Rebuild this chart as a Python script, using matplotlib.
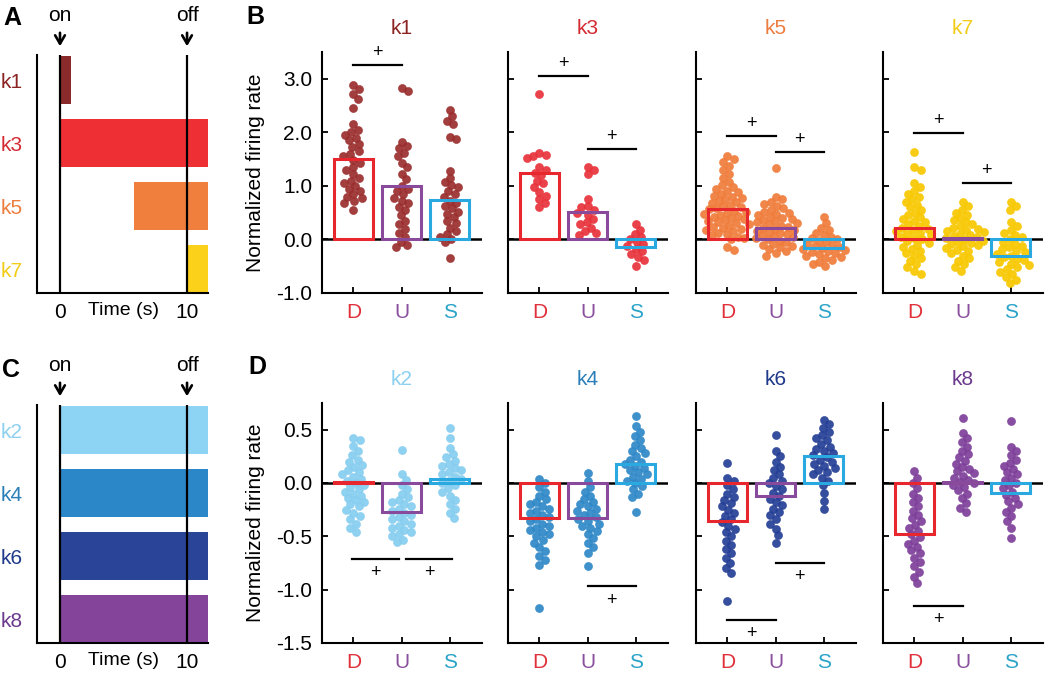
import numpy as np
import matplotlib
matplotlib.use("Agg")
import matplotlib.pyplot as plt
import matplotlib.transforms as mtransforms

plt.rcParams['font.family'] = ['Liberation Sans', 'DejaVu Sans']
plt.rcParams['axes.unicode_minus'] = False

# ---------------- data ----------------
groups = ['D', 'U', 'S']

# panel A / C : response windows (s)
time_lim = [-1.81, 11.65]
stim_on, stim_off = 0, 10
cells_A = ['k1', 'k3', 'k5', 'k7']
start_A = [0, 0, 5.85, 10]
end_A = [0.87, 11.65, 11.65, 11.65]
cells_C = ['k2', 'k4', 'k6', 'k8']
start_C = [0, 0, 0, 0]
end_C = [11.65, 11.65, 11.65, 11.65]

# bar heights (mean normalized firing rate)
mean_k1 = [1.50, 0.99, 0.74]
mean_k3 = [1.25, 0.52, -0.14]
mean_k5 = [0.56, 0.21, -0.16]
mean_k7 = [0.22, 0.02, -0.30]
mean_k2 = [0.01, -0.27, 0.04]
mean_k4 = [-0.33, -0.33, 0.18]
mean_k6 = [-0.36, -0.12, 0.25]
mean_k8 = [-0.48, 0.01, -0.09]

# individual units
k1_D = [2.88, 2.80, 2.72, 2.62, 2.45, 2.15, 2.05, 2.0, 1.95, 1.9, 1.85, 1.78, 1.72, 1.65, 1.6, 1.55, 1.48,
        1.42, 1.35, 1.3, 1.22, 1.15, 1.1, 1.05, 1.0, 0.95, 0.9, 0.85, 0.8, 0.78, 0.72, 0.68, 0.55]
k1_U = [2.82, 2.78, 1.82, 1.75, 1.70, 1.62, 1.55, 1.42, 1.35, 1.22, 1.12, 1.0, 0.95, 0.9, 0.85, 0.78, 0.72,
        0.68, 0.6, 0.55, 0.45, 0.35, 0.28, 0.2, 0.12, 0.05, -0.05, -0.1, -0.14]
k1_S = [2.42, 2.3, 2.22, 2.15, 1.92, 1.88, 1.28, 1.15, 1.08, 1.02, 0.98, 0.9, 0.85, 0.8, 0.72, 0.68, 0.62,
        0.58, 0.52, 0.48, 0.42, 0.35, 0.3, 0.22, 0.15, 0.1, 0.05, 0.0, -0.05, -0.35]
k3_D = [2.72, 1.62, 1.58, 1.55, 1.52, 1.35, 1.3, 1.25, 1.2, 1.1, 1.05, 0.98, 0.88, 0.82, 0.75, 0.68, 0.6]
k3_U = [1.35, 1.3, 1.22, 0.75, 0.62, 0.6, 0.55, 0.5, 0.45, 0.38, 0.32, 0.28, 0.22, 0.15, 0.12, 0.08]
k3_S = [0.28, 0.18, 0.1, 0.05, 0.0, -0.05, -0.08, -0.12, -0.18, -0.22, -0.28, -0.32, -0.38, -0.5]
k5_D = [1.55, 1.5, 1.45, 1.38, 1.3, 1.22, 1.15, 1.08, 1.02, 0.98, 0.95, 0.9, 0.88, 0.85, 0.82, 0.8, 0.78,
        0.75, 0.72, 0.7, 0.68, 0.65, 0.62, 0.6, 0.58, 0.56, 0.54, 0.52, 0.5, 0.48, 0.46, 0.44, 0.42, 0.4,
        0.38, 0.36, 0.34, 0.32, 0.3, 0.28, 0.26, 0.24, 0.22, 0.2, 0.18, 0.15, 0.12, 0.1, 0.08, 0.05, 0.02,
        0.0, -0.15, -0.2]
k5_U = [1.33, 0.8, 0.75, 0.7, 0.66, 0.62, 0.58, 0.55, 0.52, 0.5, 0.47, 0.45, 0.42, 0.4, 0.38, 0.36, 0.34,
        0.32, 0.3, 0.28, 0.26, 0.24, 0.22, 0.2, 0.18, 0.16, 0.14, 0.12, 0.1, 0.08, 0.06, 0.04, 0.02, 0.0,
        -0.02, -0.05, -0.08, -0.1, -0.12, -0.15, -0.18, -0.22, -0.26, -0.3]
k5_S = [0.42, 0.3, 0.22, 0.18, 0.12, 0.08, 0.05, 0.02, 0.0, -0.02, -0.05, -0.08, -0.1, -0.12, -0.14, -0.16,
        -0.18, -0.2, -0.22, -0.24, -0.26, -0.28, -0.3, -0.32, -0.35, -0.38, -0.42, -0.46, -0.5]
k7_D = [1.63, 1.35, 1.3, 1.05, 0.98, 0.9, 0.85, 0.8, 0.75, 0.7, 0.65, 0.6, 0.55, 0.5, 0.45, 0.42, 0.38,
        0.35, 0.32, 0.28, 0.25, 0.22, 0.2, 0.18, 0.15, 0.12, 0.1, 0.08, 0.05, 0.02, 0.0, -0.03, -0.06, -0.1,
        -0.14, -0.18, -0.22, -0.26, -0.3, -0.35, -0.4, -0.45, -0.52, -0.58, -0.64]
k7_U = [0.7, 0.62, 0.55, 0.5, 0.45, 0.4, 0.36, 0.32, 0.28, 0.25, 0.22, 0.2, 0.18, 0.15, 0.13, 0.1, 0.08,
        0.06, 0.04, 0.02, 0.0, -0.02, -0.04, -0.06, -0.08, -0.1, -0.13, -0.16, -0.19, -0.22, -0.26, -0.3,
        -0.35, -0.4, -0.46, -0.52, -0.58]
k7_S = [0.7, 0.62, 0.55, 0.32, 0.25, 0.18, 0.12, 0.08, 0.04, 0.0, -0.04, -0.08, -0.12, -0.15, -0.18, -0.21,
        -0.24, -0.27, -0.3, -0.33, -0.36, -0.39, -0.42, -0.45, -0.48, -0.52, -0.56, -0.6, -0.65, -0.7,
        -0.76, -0.82]
k2_D = [0.42, 0.4, 0.35, 0.3, 0.26, 0.22, 0.2, 0.17, 0.15, 0.12, 0.1, 0.08, 0.06, 0.04, 0.02, 0.0, -0.02,
        -0.04, -0.06, -0.08, -0.1, -0.12, -0.14, -0.16, -0.18, -0.2, -0.22, -0.25, -0.28, -0.31, -0.34,
        -0.38, -0.42, -0.46]
k2_U = [0.31, 0.08, 0.03, -0.02, -0.06, -0.1, -0.13, -0.16, -0.18, -0.2, -0.22, -0.24, -0.26, -0.28, -0.3,
        -0.32, -0.34, -0.36, -0.38, -0.4, -0.42, -0.44, -0.46, -0.48, -0.5, -0.53, -0.55]
k2_S = [0.52, 0.42, 0.33, 0.27, 0.24, 0.21, 0.18, 0.16, 0.14, 0.12, 0.1, 0.08, 0.06, 0.04, 0.02, 0.0, -0.02,
        -0.05, -0.08, -0.12, -0.16, -0.2, -0.24, -0.28, -0.33]
k4_D = [0.04, 0.0, -0.04, -0.08, -0.12, -0.15, -0.18, -0.2, -0.22, -0.24, -0.26, -0.28, -0.3, -0.32, -0.34,
        -0.36, -0.38, -0.4, -0.42, -0.44, -0.46, -0.48, -0.5, -0.53, -0.56, -0.6, -0.64, -0.68, -0.72,
        -0.77, -1.17]
k4_U = [0.09, 0.02, -0.04, -0.08, -0.12, -0.15, -0.18, -0.2, -0.22, -0.24, -0.26, -0.28, -0.3, -0.32, -0.34,
        -0.36, -0.38, -0.4, -0.42, -0.45, -0.48, -0.52, -0.56, -0.6, -0.66, -0.78]
k4_S = [0.63, 0.53, 0.48, 0.44, 0.4, 0.36, 0.33, 0.3, 0.28, 0.25, 0.22, 0.2, 0.18, 0.16, 0.14, 0.12, 0.1,
        0.08, 0.06, 0.04, 0.02, 0.0, -0.03, -0.06, -0.1, -0.13, -0.27]
k6_D = [0.19, 0.05, 0.02, -0.02, -0.06, -0.1, -0.13, -0.16, -0.19, -0.22, -0.25, -0.28, -0.31, -0.34, -0.37,
        -0.4, -0.43, -0.46, -0.5, -0.54, -0.58, -0.62, -0.66, -0.7, -0.75, -0.8, -0.84, -1.11]
k6_U = [0.45, 0.3, 0.25, 0.2, 0.15, 0.12, 0.08, 0.05, 0.02, 0.0, -0.03, -0.06, -0.09, -0.12, -0.15, -0.18,
        -0.21, -0.24, -0.27, -0.3, -0.34, -0.38, -0.43, -0.49, -0.56]
k6_S = [0.59, 0.55, 0.52, 0.48, 0.45, 0.42, 0.4, 0.37, 0.34, 0.32, 0.3, 0.28, 0.26, 0.24, 0.22, 0.2, 0.18,
        0.16, 0.14, 0.12, 0.1, 0.08, 0.05, 0.02, -0.02, -0.09, -0.17, -0.24]
k8_D = [0.11, 0.05, 0.0, -0.05, -0.1, -0.14, -0.18, -0.22, -0.26, -0.3, -0.33, -0.36, -0.39, -0.42, -0.45,
        -0.48, -0.51, -0.54, -0.57, -0.6, -0.63, -0.66, -0.7, -0.74, -0.78, -0.83, -0.88, -0.94]
k8_U = [0.61, 0.47, 0.42, 0.38, 0.34, 0.3, 0.27, 0.24, 0.21, 0.18, 0.15, 0.13, 0.11, 0.09, 0.07, 0.05, 0.03,
        0.01, 0.0, -0.02, -0.04, -0.07, -0.1, -0.14, -0.19, -0.23, -0.27]
k8_S = [0.58, 0.34, 0.3, 0.26, 0.22, 0.19, 0.16, 0.13, 0.1, 0.08, 0.05, 0.03, 0.0, -0.02, -0.05, -0.08,
        -0.11, -0.14, -0.17, -0.2, -0.23, -0.27, -0.31, -0.36, -0.42, -0.52]

# significance bars: (x from, x to, y)
sig_k1 = [(1, 2, 3.26)]
sig_k3 = [(1, 2, 3.05), (2, 3, 1.69)]
sig_k5 = [(1, 2, 1.93), (2, 3, 1.63)]
sig_k7 = [(1, 2, 1.99), (2, 3, 1.05)]
sig_k2 = [(0.97, 1.95, -0.71), (2.1, 3.05, -0.71)]
sig_k4 = [(2, 3, -0.97)]
sig_k6 = [(2, 3, -0.75), (1, 2, -1.28)]
sig_k8 = [(1, 2, -1.15)]

# ---------------- styles ----------------
grp_edge = ['#e8262d', '#8a4a9c', '#29a9df']
grp_text = ['#e0303a', '#8a4f9e', '#2aa3c8']
cell_col = {'k1': '#8b2a2a', 'k3': '#ee3035', 'k5': '#f07e3c', 'k7': '#fcd11a',
            'k2': '#8dd3f3', 'k4': '#2c87c8', 'k6': '#2a4598', 'k8': '#84449a'}
dot_col = {'k1': '#9a2d2d', 'k3': '#e8323a', 'k5': '#f07c3a', 'k7': '#f8c800',
           'k2': '#86cdef', 'k4': '#2e88c8', 'k6': '#253f96', 'k8': '#7e3f9a'}
title_col = {'k1': '#8b2323', 'k3': '#d42a33', 'k5': '#ec7d3e', 'k7': '#f2cc16',
             'k2': '#8dd0ef', 'k4': '#2b7fb8', 'k6': '#1f3a8a', 'k8': '#6c3a8c'}

W, H = 1050, 674
fig = plt.figure(figsize=(W / 100, H / 100), dpi=100)


def px_axes(x0, y0, x1, y1):
    return fig.add_axes([x0 / W, 1 - y1 / H, (x1 - x0) / W, (y1 - y0) / H])


def swarm(ax, xc, ys, d=7.0):
    pts = ax.transData.transform(np.column_stack([np.full(len(ys), xc), ys]))
    ypx = pts[:, 1]
    xs = np.zeros(len(ys))
    placed = []
    for i in range(len(ys)):
        y = ypx[i]
        near = [(px, py) for px, py in placed if abs(py - y) < d]
        cands = [0.0]
        for px, py in near:
            dx = np.sqrt(d * d - (py - y) ** 2)
            cands += [px + dx, px - dx]
        cands.sort(key=abs)
        for c in cands:
            if all((c - px) ** 2 + (y - py) ** 2 >= d * d - 1e-6 for px, py in near):
                xs[i] = c
                break
        placed.append((xs[i], y))
    out = ax.transData.inverted().transform(np.column_stack([pts[:, 0] + xs, ypx]))
    return out[:, 0]


def timeline(ax, cells, starts, ends):
    rows = [3, 2, 1, 0]
    for r, c, s, e in zip(rows, cells, starts, ends):
        ax.barh(r, e - s, left=s, height=0.76, color=cell_col[c], zorder=1)
    ax.set_xlim(*time_lim)
    ax.set_ylim(-0.38, 3.40)
    ax.axvline(stim_on, color='k', lw=1.6, zorder=3)
    ax.axvline(stim_off, color='k', lw=1.6, zorder=3)
    for s in ['top', 'right']:
        ax.spines[s].set_visible(False)
    for s in ['left', 'bottom']:
        ax.spines[s].set_linewidth(1.5)
    ax.set_yticks(rows)
    ax.set_yticklabels(cells, fontsize=15)
    for lab, c in zip(ax.get_yticklabels(), cells):
        lab.set_color(title_col[c])
    ax.set_xticks([stim_on, stim_off])
    ax.set_xticklabels(['0', '10'], fontsize=15)
    ax.tick_params(axis='both', length=0)
    ax.tick_params(axis='y', pad=10)
    ax.tick_params(axis='x', pad=7)
    tr = mtransforms.blended_transform_factory(ax.transData, ax.transAxes)
    ax.text(5, -0.072, 'Time (s)', transform=tr, ha='center', va='center', fontsize=14)
    for x, lab in [(stim_on, 'on'), (stim_off, 'off')]:
        ax.annotate('', xy=(x, 1.025), xytext=(x, 1.105), xycoords=tr, textcoords=tr,
                    arrowprops=dict(arrowstyle='->,head_length=0.6,head_width=0.35', lw=1.9, color='k'),
                    annotation_clip=False)
        ax.text(x, 1.165, lab, transform=tr, ha='center', va='center', fontsize=15)


def swarm_panel(ax, cell, means, data, sigs, ylim, yticks, first, below):
    ax.set_xlim(0.35, 3.67)
    ax.set_ylim(*ylim)
    ax.axhline(0, color='k', lw=1.8, zorder=2)
    for i, ys in enumerate(data):
        xs = swarm(ax, i + 1, ys)
        ax.scatter(xs, ys, s=34, color=dot_col[cell], edgecolor=dot_col[cell], linewidth=0.4,
                   alpha=0.92, zorder=3)
    ax.bar([1, 2, 3], means, width=0.82, fill=False, edgecolor=grp_edge, linewidth=2.2, zorder=4)
    for x1, x2, y in sigs:
        ax.plot([x1, x2], [y, y], color='k', lw=1.6, zorder=5)
        ax.annotate('+', xy=((x1 + x2) / 2, y), xytext=(0, -10 if below else 9),
                    textcoords='offset points', ha='center', va='center', fontsize=13)
    for s in ['top', 'right']:
        ax.spines[s].set_visible(False)
    for s in ['left', 'bottom']:
        ax.spines[s].set_linewidth(1.5)
    ax.set_xticks([1, 2, 3])
    ax.set_xticklabels(groups, fontsize=15)
    for lab, c in zip(ax.get_xticklabels(), grp_text):
        lab.set_color(c)
    ax.set_yticks(yticks)
    if first:
        ax.set_yticklabels(['%.1f' % t for t in yticks], fontsize=15)
        ax.set_ylabel('Normalized firing rate', fontsize=15)
        ax.yaxis.set_label_coords(-0.355, 0.5)
    else:
        ax.set_yticklabels([])
    ax.tick_params(direction='in', length=4, width=1.3, pad=7)
    ax.set_title(cell, color=title_col[cell], fontsize=15, pad=13)


# panel A and C
axA = px_axes(37, 55, 208, 293)
timeline(axA, cells_A, start_A, end_A)
axC = px_axes(37, 405, 208, 643)
timeline(axC, cells_C, start_C, end_C)

lefts = [322, 508, 696, 883]
top_cells = [('k1', mean_k1, [k1_D, k1_U, k1_S], sig_k1),
             ('k3', mean_k3, [k3_D, k3_U, k3_S], sig_k3),
             ('k5', mean_k5, [k5_D, k5_U, k5_S], sig_k5),
             ('k7', mean_k7, [k7_D, k7_U, k7_S], sig_k7)]
bot_cells = [('k2', mean_k2, [k2_D, k2_U, k2_S], sig_k2),
             ('k4', mean_k4, [k4_D, k4_U, k4_S], sig_k4),
             ('k6', mean_k6, [k6_D, k6_U, k6_S], sig_k6),
             ('k8', mean_k8, [k8_D, k8_U, k8_S], sig_k8)]

for j, (cell, m, d, sg) in enumerate(top_cells):
    ax = px_axes(lefts[j], 52, lefts[j] + 160, 293)
    swarm_panel(ax, cell, m, d, sg, (-1.0, 3.5), [-1.0, 0.0, 1.0, 2.0, 3.0], j == 0, False)

for j, (cell, m, d, sg) in enumerate(bot_cells):
    ax = px_axes(lefts[j], 403, lefts[j] + 160, 643)
    swarm_panel(ax, cell, m, d, sg, (-1.5, 0.75), [-1.5, -1.0, -0.5, 0.0, 0.5], j == 0, True)

# panel letters
for lab, x, y in [('A', 12, 18), ('B', 255, 17), ('C', 11, 370), ('D', 257, 367)]:
    fig.text(x / W, 1 - y / H, lab, fontsize=18, fontweight='bold', ha='center', va='center')

fig.savefig('out.png', dpi=100)
